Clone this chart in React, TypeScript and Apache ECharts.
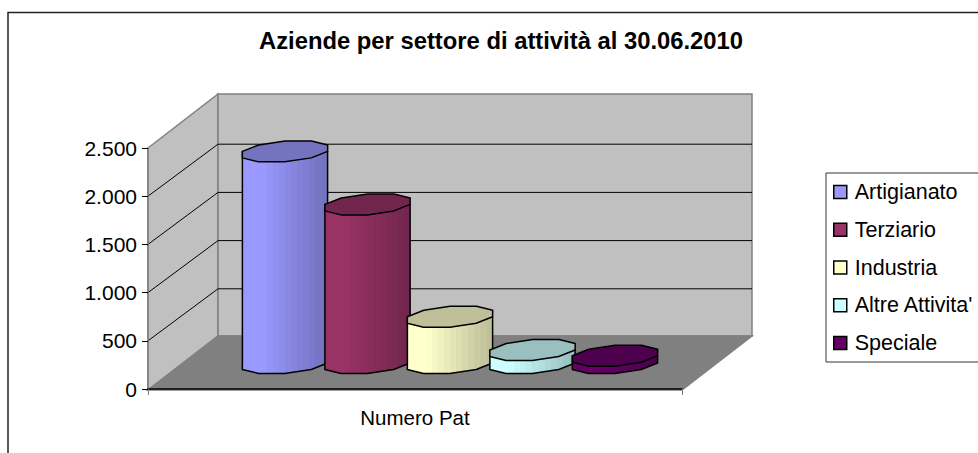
import React, { useEffect, useRef } from "react";
import * as echarts from "echarts";

const chartTitle = "Aziende per settore di attività al 30.06.2010";
const categories = ["Numero Pat"];
const seriesNames = ["Artigianato", "Terziario", "Industria", "Altre Attivita'", "Speciale"];
const seriesValues = [2195, 1645, 480, 135, 75];
const seriesColors = [[153, 153, 255], [153, 51, 102], [255, 255, 204], [204, 255, 255], [102, 0, 102]];
const gridTicks = [500, 1000, 1500, 2000];

const rgb = (c: number[], k = 1) => `rgb(${c.map((v) => Math.round(v * k)).join(",")})`;
const FONT = "Liberation Sans";
const DEPTH_X = 70;
const DEPTH_Y = 54;
const GRID_DEPTH_Y = 52;
const AXIS_OFFSET = 1;

function wallsItem(params: any, api: any) {
  const cs = params.coordSys;
  const l = cs.x, r = cs.x + cs.width, t = cs.y, b = cs.y + cs.height + AXIS_OFFSET;
  const shape = (points: number[][], fill: string, stroke: string) => ({
    type: "polygon",
    shape: { points },
    style: { fill, stroke, lineWidth: 1.5 },
  });
  const children: any[] = [
    shape([[l, t], [l + DEPTH_X, t - DEPTH_Y], [l + DEPTH_X, b - DEPTH_Y], [l, b]], "#c0c0c0", "#808080"),
    shape([[l + DEPTH_X, t - DEPTH_Y], [r + DEPTH_X, t - DEPTH_Y], [r + DEPTH_X, b - DEPTH_Y], [l + DEPTH_X, b - DEPTH_Y]], "#c0c0c0", "#808080"),
    shape([[l, b], [r, b], [r + DEPTH_X, b - DEPTH_Y], [l + DEPTH_X, b - DEPTH_Y]], "#808080", "#808080"),
  ];
  gridTicks.forEach((tick) => {
    const y = api.coord([0, tick])[1];
    children.push({
      type: "polyline",
      shape: { points: [[l, y], [l + DEPTH_X, y - GRID_DEPTH_Y], [r + DEPTH_X, y - GRID_DEPTH_Y]] },
      style: { fill: "none", stroke: "#000", lineWidth: 1 },
    });
  });
  return { type: "group", children };
}

const cylinderItem = (index: number) => (params: any, api: any) => {
  const color = seriesColors[index];
  const base = api.coord([api.value(0), 0]);
  const top = api.coord([api.value(0), api.value(1)]);
  const step = params.coordSys.width * 0.1545;
  const cx = base[0] + DEPTH_X / 2 + (index - 2) * step;
  const yBase = base[1] + AXIS_OFFSET - DEPTH_Y / 2;
  const yTop = yBase - (base[1] - top[1]);
  const at = (deg: number, y: number) => {
    const t = (deg * Math.PI) / 180;
    return [cx + 42.6 * Math.cos(t) + 14 * Math.sin(t), y - 11 * Math.sin(t)];
  };
  const ring = [0, 36, 72, 108, 144, 180, 216, 252, 288, 324];
  const front = [180, 216, 252, 288, 324, 360];
  const bodyPoints = [...front.map((d) => at(d, yBase)), at(0, yTop), at(180, yTop)];
  const bands = 14;
  const colorStops: any[] = [];
  for (let i = 0; i < bands; i++) {
    const f = i / (bands - 1);
    const k = 1 - 0.25 * Math.max(0, (f - 0.2) / 0.8);
    colorStops.push({ offset: i / bands, color: rgb(color, k) });
    colorStops.push({ offset: (i + 1) / bands, color: rgb(color, k) });
  }
  return {
    type: "group",
    children: [
      {
        type: "polygon",
        shape: { points: bodyPoints },
        style: {
          fill: new echarts.graphic.LinearGradient(0, 0, 1, 0, colorStops),
          stroke: "#000",
          lineWidth: 1.5,
          lineJoin: "round",
        },
      },
      {
        type: "polygon",
        shape: { points: ring.map((d) => at(d, yTop)) },
        style: { fill: rgb(color, 0.75), stroke: "#000", lineWidth: 1.5, lineJoin: "round" },
      },
    ],
  };
};

export default function App() {
  const ref = useRef<HTMLDivElement>(null);
  useEffect(() => {
    const chart = echarts.init(ref.current!, null, { renderer: "svg" });
    chart.setOption({
      animation: false,
      backgroundColor: "#fff",
      textStyle: { fontFamily: FONT },
      title: {
        text: chartTitle,
        left: 496,
        top: 23,
        textAlign: "center",
        textStyle: { fontFamily: FONT, fontSize: 23.8, fontWeight: "bold", color: "#000" },
      },
      grid: { left: 148, top: 148, width: 534, height: 241, containLabel: false },
      xAxis: {
        type: "category",
        data: categories,
        z: 5,
        offset: AXIS_OFFSET,
        axisLine: { lineStyle: { color: "#000", width: 1.5 } },
        axisTick: { show: true, length: 6, lineStyle: { color: "#808080" } },
        axisLabel: { margin: 17, fontFamily: FONT, fontSize: 20.5, color: "#000" },
      },
      yAxis: {
        type: "value",
        min: 0,
        max: 2500,
        interval: 500,
        z: 5,
        splitLine: { show: false },
        axisLine: { show: true, lineStyle: { color: "#808080", width: 1.5 } },
        axisTick: { show: true, length: 6, lineStyle: { color: "#000" } },
        axisLabel: {
          margin: 11,
          fontFamily: FONT,
          fontSize: 21,
          color: "#000",
          formatter: (v: number) => String(v).replace(/\B(?=(\d{3})+$)/g, "."),
        },
      },
      legend: {
        orient: "vertical",
        left: 826,
        top: 173,
        padding: [8, 20, 8, 7],
        itemWidth: 13,
        itemHeight: 13,
        itemGap: 15.75,
        borderColor: "#333",
        borderWidth: 1,
        icon: "rect",
        data: seriesNames,
        textStyle: { fontFamily: FONT, fontSize: 21.5, color: "#000", padding: [0, 0, 0, 3] },
        itemStyle: { borderColor: "#000", borderWidth: 1.5 },
      },
      graphic: [
        {
          type: "rect",
          shape: { x: 8, y: 12.5, width: 1000, height: 600 },
          style: { fill: "none", stroke: "#222", lineWidth: 1.5 },
          silent: true,
          z: 0,
        },
      ],
      series: [
        {
          type: "custom",
          name: "pareti",
          z: 1,
          data: [[0, 0]],
          renderItem: wallsItem,
          silent: true,
        },
        ...seriesNames.map((name, i) => ({
          type: "custom",
          name,
          z: 6 + i,
          itemStyle: { color: rgb(seriesColors[i]) },
          encode: { x: 0, y: 1 },
          data: [[categories[0], seriesValues[i]]],
          renderItem: cylinderItem(i),
        })),
      ],
    });
    return () => chart.dispose();
  }, []);
  return <div ref={ref} style={{ position: "fixed", left: 0, top: 0, width: 978, height: 453 }} />;
}
